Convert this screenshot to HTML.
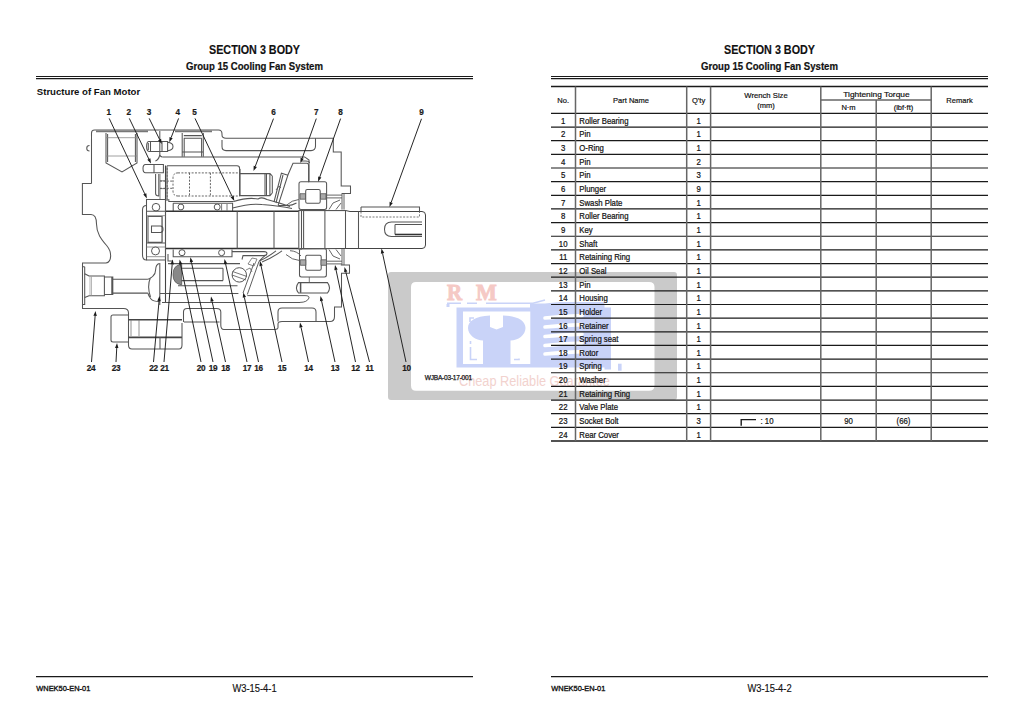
<!DOCTYPE html>
<html><head><meta charset="utf-8"><style>
html,body{margin:0;padding:0;background:#fff;}
body{width:1025px;height:727px;overflow:hidden;position:relative;font-family:"Liberation Sans", sans-serif;}
svg{position:absolute;left:0;top:0;}
</style></head><body>
<svg width="1025" height="727" viewBox="0 0 1025 727" font-family='"Liberation Sans", sans-serif'>
<path fill="#cacaca" fill-rule="evenodd" d="M391 272 H674 Q677 272 677 275 V397 Q677 400 674 400 H391 Q388 400 388 397 V275 Q388 272 391 272 Z M416 282 H649 Q654.5 282 654.5 287 V385.5 Q654.5 390.8 649 390.8 H416 Q411 390.8 411 385.5 V287 Q411 282 416 282 Z"/>
<text x="447" y="300.3" font-family="Liberation Serif" font-weight="bold" font-size="22" fill="#f5c9c5" stroke="#f5c9c5" stroke-width="0.9" transform="translate(447 300.3) scale(0.95 1.02) translate(-447 -300.3)">R</text>
<text x="476" y="300.3" font-family="Liberation Serif" font-weight="bold" font-size="22" fill="#f5c9c5" stroke="#f5c9c5" stroke-width="0.9" transform="translate(476 300.3) scale(1.0 1.02) translate(-476 -300.3)">M</text>
<path d="M447 303.3 H461 M467 303.3 H477 M486 303.3 H533 L545 300" stroke="#c9d3f8" stroke-width="1.6" fill="none"/>
<rect x="446.5" y="304" width="3" height="3" fill="#c9d3f8"/>
<path fill="#c9d3f8" fill-rule="evenodd" d="M456.5 307.5 H530 V303.5 H545 L560 302 H604.5 V307.5 H611 V369.5 H604.5 V367.4 H456.5 Z M463 311.5 H530.3 V364 H463 Z"/>
<path fill="#c9d3f8" d="M490 315.4 C475 316 468 321 468 328 C468 335 476 340.5 483 340.6 V364 H510.5 V340.6 C518 340.5 525.5 335 525.5 328 C525.5 321 518 316 503 315.4 V327 L496.5 329.5 L490 327 Z"/>
<path d="M470 322 V318 H474 M470.5 341 V344 M470.5 347 V359.5 H477 M519 358.5 V359.5 H514" stroke="#c9d3f8" stroke-width="1.6" fill="none"/>
<path d="M545 318 Q560 316.4 582 315.6" stroke="#fff" stroke-width="3.6" stroke-linecap="round" fill="none"/>
<path d="M545 327 Q560 325.4 582 324.6" stroke="#fff" stroke-width="3.6" stroke-linecap="round" fill="none"/>
<path d="M545 336.5 Q560 334.9 582 334.1" stroke="#fff" stroke-width="3.6" stroke-linecap="round" fill="none"/>
<path d="M545 345.5 Q560 343.9 582 343.1" stroke="#fff" stroke-width="3.6" stroke-linecap="round" fill="none"/>
<path d="M545 354 Q560 352.4 582 351.6" stroke="#fff" stroke-width="3.6" stroke-linecap="round" fill="none"/>
<rect x="618" y="363.7" width="3.6" height="7" fill="#c9d3f8"/>
<text x="459" y="385.6" font-family="Liberation Sans" font-size="15" fill="#f2d2ce" transform="translate(459 385.6) scale(0.85 1) translate(-459 -385.6)">Cheap Reliable Guarantee</text>
<line x1="36" y1="76.5" x2="473" y2="76.5" stroke="#1a1a1a" stroke-width="1.1"/>
<line x1="36" y1="78.6" x2="473" y2="78.6" stroke="#1a1a1a" stroke-width="1.1"/>
<line x1="551" y1="76.5" x2="988" y2="76.5" stroke="#1a1a1a" stroke-width="1.1"/>
<line x1="551" y1="78.6" x2="988" y2="78.6" stroke="#1a1a1a" stroke-width="1.1"/>
<line x1="551" y1="86.5" x2="988" y2="86.5" stroke="#1a1a1a" stroke-width="1.3"/>
<line x1="551" y1="113.4" x2="988" y2="113.4" stroke="#1a1a1a" stroke-width="1.2"/>
<line x1="551" y1="127.05000000000001" x2="988" y2="127.05000000000001" stroke="#1a1a1a" stroke-width="1.2"/>
<line x1="551" y1="140.70000000000002" x2="988" y2="140.70000000000002" stroke="#1a1a1a" stroke-width="1.2"/>
<line x1="551" y1="154.35000000000002" x2="988" y2="154.35000000000002" stroke="#1a1a1a" stroke-width="1.2"/>
<line x1="551" y1="168.0" x2="988" y2="168.0" stroke="#1a1a1a" stroke-width="1.2"/>
<line x1="551" y1="181.65" x2="988" y2="181.65" stroke="#1a1a1a" stroke-width="1.2"/>
<line x1="551" y1="195.3" x2="988" y2="195.3" stroke="#1a1a1a" stroke-width="1.2"/>
<line x1="551" y1="208.95" x2="988" y2="208.95" stroke="#1a1a1a" stroke-width="1.2"/>
<line x1="551" y1="222.60000000000002" x2="988" y2="222.60000000000002" stroke="#1a1a1a" stroke-width="1.2"/>
<line x1="551" y1="236.25" x2="988" y2="236.25" stroke="#1a1a1a" stroke-width="1.2"/>
<line x1="551" y1="249.9" x2="988" y2="249.9" stroke="#1a1a1a" stroke-width="1.2"/>
<line x1="551" y1="263.55" x2="988" y2="263.55" stroke="#1a1a1a" stroke-width="1.2"/>
<line x1="551" y1="277.20000000000005" x2="988" y2="277.20000000000005" stroke="#1a1a1a" stroke-width="1.2"/>
<line x1="551" y1="290.85" x2="988" y2="290.85" stroke="#1a1a1a" stroke-width="1.2"/>
<line x1="551" y1="304.5" x2="988" y2="304.5" stroke="#1a1a1a" stroke-width="1.2"/>
<line x1="551" y1="318.15" x2="988" y2="318.15" stroke="#1a1a1a" stroke-width="1.2"/>
<line x1="551" y1="331.8" x2="988" y2="331.8" stroke="#1a1a1a" stroke-width="1.2"/>
<line x1="551" y1="345.45000000000005" x2="988" y2="345.45000000000005" stroke="#1a1a1a" stroke-width="1.2"/>
<line x1="551" y1="359.1" x2="988" y2="359.1" stroke="#1a1a1a" stroke-width="1.2"/>
<line x1="551" y1="372.75" x2="988" y2="372.75" stroke="#1a1a1a" stroke-width="1.2"/>
<line x1="551" y1="386.4" x2="988" y2="386.4" stroke="#1a1a1a" stroke-width="1.2"/>
<line x1="551" y1="400.05000000000007" x2="988" y2="400.05000000000007" stroke="#1a1a1a" stroke-width="1.2"/>
<line x1="551" y1="413.70000000000005" x2="988" y2="413.70000000000005" stroke="#1a1a1a" stroke-width="1.2"/>
<line x1="551" y1="427.35" x2="988" y2="427.35" stroke="#1a1a1a" stroke-width="1.2"/>
<line x1="551" y1="441.0" x2="988" y2="441.0" stroke="#1a1a1a" stroke-width="1.5"/>
<line x1="575.5" y1="86.5" x2="575.5" y2="441.0" stroke="#666" stroke-width="1.5"/>
<line x1="686.7" y1="86.5" x2="686.7" y2="441.0" stroke="#666" stroke-width="1.5"/>
<line x1="710.6" y1="86.5" x2="710.6" y2="441.0" stroke="#666" stroke-width="1.5"/>
<line x1="820.8" y1="86.5" x2="820.8" y2="441.0" stroke="#666" stroke-width="1.5"/>
<line x1="876.2" y1="100" x2="876.2" y2="441.0" stroke="#666" stroke-width="1.5"/>
<line x1="931.2" y1="86.5" x2="931.2" y2="441.0" stroke="#666" stroke-width="1.5"/>
<line x1="820.8" y1="100" x2="931.2" y2="100" stroke="#666" stroke-width="1.3"/>
<path d="M741.2 425.8 V419.6 H756" fill="none" stroke="#1a1a1a" stroke-width="1.4"/>
<line x1="36" y1="676.6" x2="473" y2="676.6" stroke="#1a1a1a" stroke-width="1.2"/>
<line x1="551" y1="676.6" x2="988" y2="676.6" stroke="#1a1a1a" stroke-width="1.2"/>
<text x="254.5" y="53.8" font-size="12.4" font-weight="bold" text-anchor="middle" fill="#111" transform="translate(254.5 53.8) scale(0.87 1) translate(-254.5 -53.8)" stroke="#111" stroke-width="0.15">SECTION 3 BODY</text>
<text x="254.5" y="70.0" font-size="10.1" font-weight="bold" text-anchor="middle" fill="#111" transform="translate(254.5 70.0) scale(0.95 1) translate(-254.5 -70.0)" stroke="#111" stroke-width="0.2">Group 15 Cooling Fan System</text>
<text x="769.5" y="53.8" font-size="12.4" font-weight="bold" text-anchor="middle" fill="#111" transform="translate(769.5 53.8) scale(0.87 1) translate(-769.5 -53.8)" stroke="#111" stroke-width="0.15">SECTION 3 BODY</text>
<text x="769.5" y="70.0" font-size="10.1" font-weight="bold" text-anchor="middle" fill="#111" transform="translate(769.5 70.0) scale(0.95 1) translate(-769.5 -70.0)" stroke="#111" stroke-width="0.2">Group 15 Cooling Fan System</text>
<text x="36.8" y="94.6" font-size="9.6" font-weight="bold" text-anchor="start" fill="#111" >Structure of Fan Motor</text>
<text x="563.2" y="103.2" font-size="8.1" font-weight="normal" text-anchor="middle" fill="#111" transform="translate(563.2 103.2) scale(0.93 1) translate(-563.2 -103.2)" stroke="#111" stroke-width="0.2">No.</text>
<text x="631" y="103.2" font-size="8.1" font-weight="normal" text-anchor="middle" fill="#111" transform="translate(631 103.2) scale(0.93 1) translate(-631 -103.2)" stroke="#111" stroke-width="0.2">Part Name</text>
<text x="698.6" y="103.2" font-size="8.1" font-weight="normal" text-anchor="middle" fill="#111" transform="translate(698.6 103.2) scale(0.93 1) translate(-698.6 -103.2)" stroke="#111" stroke-width="0.2">Q'ty</text>
<text x="766" y="98.4" font-size="8.1" font-weight="normal" text-anchor="middle" fill="#111" transform="translate(766 98.4) scale(0.95 1) translate(-766 -98.4)" stroke="#111" stroke-width="0.2">Wrench Size</text>
<text x="766" y="108.1" font-size="8.1" font-weight="normal" text-anchor="middle" fill="#111" transform="translate(766 108.1) scale(0.93 1) translate(-766 -108.1)" stroke="#111" stroke-width="0.2">(mm)</text>
<text x="876.4" y="96.6" font-size="8.1" font-weight="normal" text-anchor="middle" fill="#111" transform="translate(876.4 96.6) scale(1.03 1) translate(-876.4 -96.6)" stroke="#111" stroke-width="0.2">Tightening Torque</text>
<text x="848.5" y="110.2" font-size="8.1" font-weight="normal" text-anchor="middle" fill="#111" transform="translate(848.5 110.2) scale(0.93 1) translate(-848.5 -110.2)" stroke="#111" stroke-width="0.2">N·m</text>
<text x="903.5" y="110.2" font-size="8.1" font-weight="normal" text-anchor="middle" fill="#111" transform="translate(903.5 110.2) scale(0.93 1) translate(-903.5 -110.2)" stroke="#111" stroke-width="0.2">(lbf·ft)</text>
<text x="959.5" y="103.2" font-size="8.1" font-weight="normal" text-anchor="middle" fill="#111" transform="translate(959.5 103.2) scale(0.93 1) translate(-959.5 -103.2)" stroke="#111" stroke-width="0.2">Remark</text>
<text x="563.2" y="123.80000000000001" font-size="8.4" font-weight="normal" text-anchor="middle" fill="#111" transform="translate(563.2 123.80000000000001) scale(0.93 1) translate(-563.2 -123.80000000000001)" stroke="#111" stroke-width="0.22">1</text>
<text x="579.3" y="123.80000000000001" font-size="8.4" font-weight="normal" text-anchor="start" fill="#111" transform="translate(579.3 123.80000000000001) scale(0.925 1) translate(-579.3 -123.80000000000001)" stroke="#111" stroke-width="0.22">Roller Bearing</text>
<text x="698.6" y="123.80000000000001" font-size="8.4" font-weight="normal" text-anchor="middle" fill="#111" transform="translate(698.6 123.80000000000001) scale(0.93 1) translate(-698.6 -123.80000000000001)" stroke="#111" stroke-width="0.22">1</text>
<text x="563.2" y="137.45000000000002" font-size="8.4" font-weight="normal" text-anchor="middle" fill="#111" transform="translate(563.2 137.45000000000002) scale(0.93 1) translate(-563.2 -137.45000000000002)" stroke="#111" stroke-width="0.22">2</text>
<text x="579.3" y="137.45000000000002" font-size="8.4" font-weight="normal" text-anchor="start" fill="#111" transform="translate(579.3 137.45000000000002) scale(0.925 1) translate(-579.3 -137.45000000000002)" stroke="#111" stroke-width="0.22">Pin</text>
<text x="698.6" y="137.45000000000002" font-size="8.4" font-weight="normal" text-anchor="middle" fill="#111" transform="translate(698.6 137.45000000000002) scale(0.93 1) translate(-698.6 -137.45000000000002)" stroke="#111" stroke-width="0.22">1</text>
<text x="563.2" y="151.10000000000002" font-size="8.4" font-weight="normal" text-anchor="middle" fill="#111" transform="translate(563.2 151.10000000000002) scale(0.93 1) translate(-563.2 -151.10000000000002)" stroke="#111" stroke-width="0.22">3</text>
<text x="579.3" y="151.10000000000002" font-size="8.4" font-weight="normal" text-anchor="start" fill="#111" transform="translate(579.3 151.10000000000002) scale(0.925 1) translate(-579.3 -151.10000000000002)" stroke="#111" stroke-width="0.22">O-Ring</text>
<text x="698.6" y="151.10000000000002" font-size="8.4" font-weight="normal" text-anchor="middle" fill="#111" transform="translate(698.6 151.10000000000002) scale(0.93 1) translate(-698.6 -151.10000000000002)" stroke="#111" stroke-width="0.22">1</text>
<text x="563.2" y="164.75000000000003" font-size="8.4" font-weight="normal" text-anchor="middle" fill="#111" transform="translate(563.2 164.75000000000003) scale(0.93 1) translate(-563.2 -164.75000000000003)" stroke="#111" stroke-width="0.22">4</text>
<text x="579.3" y="164.75000000000003" font-size="8.4" font-weight="normal" text-anchor="start" fill="#111" transform="translate(579.3 164.75000000000003) scale(0.925 1) translate(-579.3 -164.75000000000003)" stroke="#111" stroke-width="0.22">Pin</text>
<text x="698.6" y="164.75000000000003" font-size="8.4" font-weight="normal" text-anchor="middle" fill="#111" transform="translate(698.6 164.75000000000003) scale(0.93 1) translate(-698.6 -164.75000000000003)" stroke="#111" stroke-width="0.22">2</text>
<text x="563.2" y="178.4" font-size="8.4" font-weight="normal" text-anchor="middle" fill="#111" transform="translate(563.2 178.4) scale(0.93 1) translate(-563.2 -178.4)" stroke="#111" stroke-width="0.22">5</text>
<text x="579.3" y="178.4" font-size="8.4" font-weight="normal" text-anchor="start" fill="#111" transform="translate(579.3 178.4) scale(0.925 1) translate(-579.3 -178.4)" stroke="#111" stroke-width="0.22">Pin</text>
<text x="698.6" y="178.4" font-size="8.4" font-weight="normal" text-anchor="middle" fill="#111" transform="translate(698.6 178.4) scale(0.93 1) translate(-698.6 -178.4)" stroke="#111" stroke-width="0.22">3</text>
<text x="563.2" y="192.05" font-size="8.4" font-weight="normal" text-anchor="middle" fill="#111" transform="translate(563.2 192.05) scale(0.93 1) translate(-563.2 -192.05)" stroke="#111" stroke-width="0.22">6</text>
<text x="579.3" y="192.05" font-size="8.4" font-weight="normal" text-anchor="start" fill="#111" transform="translate(579.3 192.05) scale(0.925 1) translate(-579.3 -192.05)" stroke="#111" stroke-width="0.22">Plunger</text>
<text x="698.6" y="192.05" font-size="8.4" font-weight="normal" text-anchor="middle" fill="#111" transform="translate(698.6 192.05) scale(0.93 1) translate(-698.6 -192.05)" stroke="#111" stroke-width="0.22">9</text>
<text x="563.2" y="205.70000000000002" font-size="8.4" font-weight="normal" text-anchor="middle" fill="#111" transform="translate(563.2 205.70000000000002) scale(0.93 1) translate(-563.2 -205.70000000000002)" stroke="#111" stroke-width="0.22">7</text>
<text x="579.3" y="205.70000000000002" font-size="8.4" font-weight="normal" text-anchor="start" fill="#111" transform="translate(579.3 205.70000000000002) scale(0.925 1) translate(-579.3 -205.70000000000002)" stroke="#111" stroke-width="0.22">Swash Plate</text>
<text x="698.6" y="205.70000000000002" font-size="8.4" font-weight="normal" text-anchor="middle" fill="#111" transform="translate(698.6 205.70000000000002) scale(0.93 1) translate(-698.6 -205.70000000000002)" stroke="#111" stroke-width="0.22">1</text>
<text x="563.2" y="219.35" font-size="8.4" font-weight="normal" text-anchor="middle" fill="#111" transform="translate(563.2 219.35) scale(0.93 1) translate(-563.2 -219.35)" stroke="#111" stroke-width="0.22">8</text>
<text x="579.3" y="219.35" font-size="8.4" font-weight="normal" text-anchor="start" fill="#111" transform="translate(579.3 219.35) scale(0.925 1) translate(-579.3 -219.35)" stroke="#111" stroke-width="0.22">Roller Bearing</text>
<text x="698.6" y="219.35" font-size="8.4" font-weight="normal" text-anchor="middle" fill="#111" transform="translate(698.6 219.35) scale(0.93 1) translate(-698.6 -219.35)" stroke="#111" stroke-width="0.22">1</text>
<text x="563.2" y="233.00000000000003" font-size="8.4" font-weight="normal" text-anchor="middle" fill="#111" transform="translate(563.2 233.00000000000003) scale(0.93 1) translate(-563.2 -233.00000000000003)" stroke="#111" stroke-width="0.22">9</text>
<text x="579.3" y="233.00000000000003" font-size="8.4" font-weight="normal" text-anchor="start" fill="#111" transform="translate(579.3 233.00000000000003) scale(0.925 1) translate(-579.3 -233.00000000000003)" stroke="#111" stroke-width="0.22">Key</text>
<text x="698.6" y="233.00000000000003" font-size="8.4" font-weight="normal" text-anchor="middle" fill="#111" transform="translate(698.6 233.00000000000003) scale(0.93 1) translate(-698.6 -233.00000000000003)" stroke="#111" stroke-width="0.22">1</text>
<text x="563.2" y="246.65" font-size="8.4" font-weight="normal" text-anchor="middle" fill="#111" transform="translate(563.2 246.65) scale(0.93 1) translate(-563.2 -246.65)" stroke="#111" stroke-width="0.22">10</text>
<text x="579.3" y="246.65" font-size="8.4" font-weight="normal" text-anchor="start" fill="#111" transform="translate(579.3 246.65) scale(0.925 1) translate(-579.3 -246.65)" stroke="#111" stroke-width="0.22">Shaft</text>
<text x="698.6" y="246.65" font-size="8.4" font-weight="normal" text-anchor="middle" fill="#111" transform="translate(698.6 246.65) scale(0.93 1) translate(-698.6 -246.65)" stroke="#111" stroke-width="0.22">1</text>
<text x="563.2" y="260.3" font-size="8.4" font-weight="normal" text-anchor="middle" fill="#111" transform="translate(563.2 260.3) scale(0.93 1) translate(-563.2 -260.3)" stroke="#111" stroke-width="0.22">11</text>
<text x="579.3" y="260.3" font-size="8.4" font-weight="normal" text-anchor="start" fill="#111" transform="translate(579.3 260.3) scale(0.925 1) translate(-579.3 -260.3)" stroke="#111" stroke-width="0.22">Retaining Ring</text>
<text x="698.6" y="260.3" font-size="8.4" font-weight="normal" text-anchor="middle" fill="#111" transform="translate(698.6 260.3) scale(0.93 1) translate(-698.6 -260.3)" stroke="#111" stroke-width="0.22">1</text>
<text x="563.2" y="273.95" font-size="8.4" font-weight="normal" text-anchor="middle" fill="#111" transform="translate(563.2 273.95) scale(0.93 1) translate(-563.2 -273.95)" stroke="#111" stroke-width="0.22">12</text>
<text x="579.3" y="273.95" font-size="8.4" font-weight="normal" text-anchor="start" fill="#111" transform="translate(579.3 273.95) scale(0.925 1) translate(-579.3 -273.95)" stroke="#111" stroke-width="0.22">Oil Seal</text>
<text x="698.6" y="273.95" font-size="8.4" font-weight="normal" text-anchor="middle" fill="#111" transform="translate(698.6 273.95) scale(0.93 1) translate(-698.6 -273.95)" stroke="#111" stroke-width="0.22">1</text>
<text x="563.2" y="287.6" font-size="8.4" font-weight="normal" text-anchor="middle" fill="#111" transform="translate(563.2 287.6) scale(0.93 1) translate(-563.2 -287.6)" stroke="#111" stroke-width="0.22">13</text>
<text x="579.3" y="287.6" font-size="8.4" font-weight="normal" text-anchor="start" fill="#111" transform="translate(579.3 287.6) scale(0.925 1) translate(-579.3 -287.6)" stroke="#111" stroke-width="0.22">Pin</text>
<text x="698.6" y="287.6" font-size="8.4" font-weight="normal" text-anchor="middle" fill="#111" transform="translate(698.6 287.6) scale(0.93 1) translate(-698.6 -287.6)" stroke="#111" stroke-width="0.22">1</text>
<text x="563.2" y="301.25" font-size="8.4" font-weight="normal" text-anchor="middle" fill="#111" transform="translate(563.2 301.25) scale(0.93 1) translate(-563.2 -301.25)" stroke="#111" stroke-width="0.22">14</text>
<text x="579.3" y="301.25" font-size="8.4" font-weight="normal" text-anchor="start" fill="#111" transform="translate(579.3 301.25) scale(0.925 1) translate(-579.3 -301.25)" stroke="#111" stroke-width="0.22">Housing</text>
<text x="698.6" y="301.25" font-size="8.4" font-weight="normal" text-anchor="middle" fill="#111" transform="translate(698.6 301.25) scale(0.93 1) translate(-698.6 -301.25)" stroke="#111" stroke-width="0.22">1</text>
<text x="563.2" y="314.9" font-size="8.4" font-weight="normal" text-anchor="middle" fill="#111" transform="translate(563.2 314.9) scale(0.93 1) translate(-563.2 -314.9)" stroke="#111" stroke-width="0.22">15</text>
<text x="579.3" y="314.9" font-size="8.4" font-weight="normal" text-anchor="start" fill="#111" transform="translate(579.3 314.9) scale(0.925 1) translate(-579.3 -314.9)" stroke="#111" stroke-width="0.22">Holder</text>
<text x="698.6" y="314.9" font-size="8.4" font-weight="normal" text-anchor="middle" fill="#111" transform="translate(698.6 314.9) scale(0.93 1) translate(-698.6 -314.9)" stroke="#111" stroke-width="0.22">1</text>
<text x="563.2" y="328.54999999999995" font-size="8.4" font-weight="normal" text-anchor="middle" fill="#111" transform="translate(563.2 328.54999999999995) scale(0.93 1) translate(-563.2 -328.54999999999995)" stroke="#111" stroke-width="0.22">16</text>
<text x="579.3" y="328.54999999999995" font-size="8.4" font-weight="normal" text-anchor="start" fill="#111" transform="translate(579.3 328.54999999999995) scale(0.925 1) translate(-579.3 -328.54999999999995)" stroke="#111" stroke-width="0.22">Retainer</text>
<text x="698.6" y="328.54999999999995" font-size="8.4" font-weight="normal" text-anchor="middle" fill="#111" transform="translate(698.6 328.54999999999995) scale(0.93 1) translate(-698.6 -328.54999999999995)" stroke="#111" stroke-width="0.22">1</text>
<text x="563.2" y="342.2" font-size="8.4" font-weight="normal" text-anchor="middle" fill="#111" transform="translate(563.2 342.2) scale(0.93 1) translate(-563.2 -342.2)" stroke="#111" stroke-width="0.22">17</text>
<text x="579.3" y="342.2" font-size="8.4" font-weight="normal" text-anchor="start" fill="#111" transform="translate(579.3 342.2) scale(0.925 1) translate(-579.3 -342.2)" stroke="#111" stroke-width="0.22">Spring seat</text>
<text x="698.6" y="342.2" font-size="8.4" font-weight="normal" text-anchor="middle" fill="#111" transform="translate(698.6 342.2) scale(0.93 1) translate(-698.6 -342.2)" stroke="#111" stroke-width="0.22">1</text>
<text x="563.2" y="355.85" font-size="8.4" font-weight="normal" text-anchor="middle" fill="#111" transform="translate(563.2 355.85) scale(0.93 1) translate(-563.2 -355.85)" stroke="#111" stroke-width="0.22">18</text>
<text x="579.3" y="355.85" font-size="8.4" font-weight="normal" text-anchor="start" fill="#111" transform="translate(579.3 355.85) scale(0.925 1) translate(-579.3 -355.85)" stroke="#111" stroke-width="0.22">Rotor</text>
<text x="698.6" y="355.85" font-size="8.4" font-weight="normal" text-anchor="middle" fill="#111" transform="translate(698.6 355.85) scale(0.93 1) translate(-698.6 -355.85)" stroke="#111" stroke-width="0.22">1</text>
<text x="563.2" y="369.5" font-size="8.4" font-weight="normal" text-anchor="middle" fill="#111" transform="translate(563.2 369.5) scale(0.93 1) translate(-563.2 -369.5)" stroke="#111" stroke-width="0.22">19</text>
<text x="579.3" y="369.5" font-size="8.4" font-weight="normal" text-anchor="start" fill="#111" transform="translate(579.3 369.5) scale(0.925 1) translate(-579.3 -369.5)" stroke="#111" stroke-width="0.22">Spring</text>
<text x="698.6" y="369.5" font-size="8.4" font-weight="normal" text-anchor="middle" fill="#111" transform="translate(698.6 369.5) scale(0.93 1) translate(-698.6 -369.5)" stroke="#111" stroke-width="0.22">1</text>
<text x="563.2" y="383.15" font-size="8.4" font-weight="normal" text-anchor="middle" fill="#111" transform="translate(563.2 383.15) scale(0.93 1) translate(-563.2 -383.15)" stroke="#111" stroke-width="0.22">20</text>
<text x="579.3" y="383.15" font-size="8.4" font-weight="normal" text-anchor="start" fill="#111" transform="translate(579.3 383.15) scale(0.925 1) translate(-579.3 -383.15)" stroke="#111" stroke-width="0.22">Washer</text>
<text x="698.6" y="383.15" font-size="8.4" font-weight="normal" text-anchor="middle" fill="#111" transform="translate(698.6 383.15) scale(0.93 1) translate(-698.6 -383.15)" stroke="#111" stroke-width="0.22">1</text>
<text x="563.2" y="396.79999999999995" font-size="8.4" font-weight="normal" text-anchor="middle" fill="#111" transform="translate(563.2 396.79999999999995) scale(0.93 1) translate(-563.2 -396.79999999999995)" stroke="#111" stroke-width="0.22">21</text>
<text x="579.3" y="396.79999999999995" font-size="8.4" font-weight="normal" text-anchor="start" fill="#111" transform="translate(579.3 396.79999999999995) scale(0.925 1) translate(-579.3 -396.79999999999995)" stroke="#111" stroke-width="0.22">Retaining Ring</text>
<text x="698.6" y="396.79999999999995" font-size="8.4" font-weight="normal" text-anchor="middle" fill="#111" transform="translate(698.6 396.79999999999995) scale(0.93 1) translate(-698.6 -396.79999999999995)" stroke="#111" stroke-width="0.22">1</text>
<text x="563.2" y="410.45000000000005" font-size="8.4" font-weight="normal" text-anchor="middle" fill="#111" transform="translate(563.2 410.45000000000005) scale(0.93 1) translate(-563.2 -410.45000000000005)" stroke="#111" stroke-width="0.22">22</text>
<text x="579.3" y="410.45000000000005" font-size="8.4" font-weight="normal" text-anchor="start" fill="#111" transform="translate(579.3 410.45000000000005) scale(0.925 1) translate(-579.3 -410.45000000000005)" stroke="#111" stroke-width="0.22">Valve Plate</text>
<text x="698.6" y="410.45000000000005" font-size="8.4" font-weight="normal" text-anchor="middle" fill="#111" transform="translate(698.6 410.45000000000005) scale(0.93 1) translate(-698.6 -410.45000000000005)" stroke="#111" stroke-width="0.22">1</text>
<text x="563.2" y="424.1" font-size="8.4" font-weight="normal" text-anchor="middle" fill="#111" transform="translate(563.2 424.1) scale(0.93 1) translate(-563.2 -424.1)" stroke="#111" stroke-width="0.22">23</text>
<text x="579.3" y="424.1" font-size="8.4" font-weight="normal" text-anchor="start" fill="#111" transform="translate(579.3 424.1) scale(0.925 1) translate(-579.3 -424.1)" stroke="#111" stroke-width="0.22">Socket Bolt</text>
<text x="698.6" y="424.1" font-size="8.4" font-weight="normal" text-anchor="middle" fill="#111" transform="translate(698.6 424.1) scale(0.93 1) translate(-698.6 -424.1)" stroke="#111" stroke-width="0.22">3</text>
<text x="563.2" y="437.75" font-size="8.4" font-weight="normal" text-anchor="middle" fill="#111" transform="translate(563.2 437.75) scale(0.93 1) translate(-563.2 -437.75)" stroke="#111" stroke-width="0.22">24</text>
<text x="579.3" y="437.75" font-size="8.4" font-weight="normal" text-anchor="start" fill="#111" transform="translate(579.3 437.75) scale(0.925 1) translate(-579.3 -437.75)" stroke="#111" stroke-width="0.22">Rear Cover</text>
<text x="698.6" y="437.75" font-size="8.4" font-weight="normal" text-anchor="middle" fill="#111" transform="translate(698.6 437.75) scale(0.93 1) translate(-698.6 -437.75)" stroke="#111" stroke-width="0.22">1</text>
<text x="760.5" y="424.1" font-size="8.4" font-weight="normal" text-anchor="start" fill="#111" transform="translate(760.5 424.1) scale(0.93 1) translate(-760.5 -424.1)" stroke="#111" stroke-width="0.2">: 10</text>
<text x="848.5" y="424.1" font-size="8.4" font-weight="normal" text-anchor="middle" fill="#111" transform="translate(848.5 424.1) scale(0.93 1) translate(-848.5 -424.1)" stroke="#111" stroke-width="0.2">90</text>
<text x="903.5" y="424.1" font-size="8.4" font-weight="normal" text-anchor="middle" fill="#111" transform="translate(903.5 424.1) scale(0.93 1) translate(-903.5 -424.1)" stroke="#111" stroke-width="0.2">(66)</text>
<text x="36.3" y="691.0" font-size="7.9" font-weight="normal" text-anchor="start" fill="#111" transform="translate(36.3 691.0) scale(0.94 1) translate(-36.3 -691.0)" stroke="#111" stroke-width="0.35">WNEK50-EN-01</text>
<text x="254.5" y="691.6" font-size="10.3" font-weight="normal" text-anchor="middle" fill="#111" transform="translate(254.5 691.6) scale(0.91 1) translate(-254.5 -691.6)" stroke="#111" stroke-width="0.15">W3-15-4-1</text>
<text x="551.3" y="691.0" font-size="7.9" font-weight="normal" text-anchor="start" fill="#111" transform="translate(551.3 691.0) scale(0.94 1) translate(-551.3 -691.0)" stroke="#111" stroke-width="0.35">WNEK50-EN-01</text>
<text x="769.5" y="691.6" font-size="10.3" font-weight="normal" text-anchor="middle" fill="#111" transform="translate(769.5 691.6) scale(0.91 1) translate(-769.5 -691.6)" stroke="#111" stroke-width="0.15">W3-15-4-2</text>
<path d="M91.5 183.4 V133 Q91.5 130 94.5 130 H218.5 Q222 130 222 134 V135 Q222 138.2 226 138.2 H333.3 V152 H341.2 V186 H350.5 V193.5 H342" fill="none" stroke="#555" stroke-width="1.05" />
<path d="M96 131.4 H148 M175 131.4 H212" fill="none" stroke="#777" stroke-width="1.7" />
<path d="M91.5 183.4 H82.4 V214.4 H91 C96 214.4 96.5 219 96.5 224 C96.5 234 102 240 107 246 C112 252 112 262 106 263 H82.5 V308.5 H123.5 Q128.5 308.5 128.5 313 V315" fill="none" stroke="#555" stroke-width="1.05" />
<path d="M89.5 145.5 A2.7 2.7 0 0 0 89.5 151" fill="none" stroke="#555" stroke-width="1.05" />
<path d="M222 140 V146.5 Q222 150.6 226 150.6 H311 Q315.5 150.6 315.5 146 V138.2" fill="none" stroke="#555" stroke-width="1.05" />
<path d="M162.5 156.9 H304.7 L309 160 V182" fill="none" stroke="#555" stroke-width="1.05" />
<path d="M167 165.7 H237 Q239.6 165.7 239.6 168.5 V196 M167 165.7 V201" fill="none" stroke="#555" stroke-width="1.05" />
<path d="M106 133 V163 L122 172 L137 163 V133 M107.6 134 V162 M135.4 134 V162" fill="none" stroke="#555" stroke-width="1.05" />
<path d="M106 137.7 H137 M106 156 H137" fill="none" stroke="#888" stroke-width="0.8" />
<path d="M149 141.5 H167.6 V151.4 H149 Q146.6 151.4 146.6 146.5 Q146.6 141.5 149 141.5 Z M148.3 143 V150 M150.5 142 V151" fill="none" stroke="#555" stroke-width="1.05" />
<path d="M167.6 142.3 Q173 142.8 173 146.5 Q173 150.3 167.6 150.8 M162 141.5 V151.4" fill="none" stroke="#555" stroke-width="1.05" />
<path d="M159.8 131 V154.6 Q159.8 156.9 162.5 156.9" fill="none" stroke="#555" stroke-width="1.05" />
<path d="M159.8 155 Q158.5 160 155.4 161" fill="none" stroke="#555" stroke-width="1.05" />
<path d="M182.2 133 V156.8 M203.3 133 V156.8 M183.8 135.6 H201.8 M183.8 138.2 H201.8 M184.2 138.2 V156.8 M201.6 138.2 V156.8 M182.2 152 H203.3" fill="none" stroke="#555" stroke-width="1.05" />
<path d="M145.5 164.5 H163.4 V172.8 H145.5 Q143 172.8 143 168.6 Q143 164.5 145.5 164.5 Z M154 164.5 V172.8" fill="none" stroke="#555" stroke-width="1.05" />
<path d="M155.6 174 V193.5 Q155.6 196 158.8 196 V174" fill="none" stroke="#555" stroke-width="1.05" />
<path d="M165.5 165.5 V302.5" fill="none" stroke="#444" stroke-width="1.1" />
<path d="M160 180.8 H165.5 M160 188.6 H165.5 M160 174 V199" fill="none" stroke="#666" stroke-width="0.8" />
<path d="M167.2 168 V200" fill="none" stroke="#555" stroke-width="0.8" stroke-dasharray="2 1.4"/>
<path d="M178 172.9 H240 M178 196 H240 M189.5 172.9 V196 M210.4 172.9 V196" fill="none" stroke="#555" stroke-width="0.9" stroke-dasharray="2 1.4"/>
<path d="M178 172.9 Q173 172.9 173 178 V191 Q173 196 178 196 M160 181.1 H173 M160 188.3 H173" fill="none" stroke="#555" stroke-width="0.9" stroke-dasharray="2 1.4"/>
<path d="M240 173.6 H270 L272.3 176 M240 195.6 H270 L272.3 193 M240 169 V196 M265 173.6 V195.6 M266.5 173.6 V195.6 M269.9 173.6 V195.6 M272.3 176 V193" fill="none" stroke="#555" stroke-width="1.05" />
<path d="M168.8 199 V201.5 H233.7 M173.2 203.2 H232.6 V210.9 M173.2 203.2 V210.9" fill="none" stroke="#555" stroke-width="1.05" />
<circle cx="180.9" cy="207" r="2.9" fill="none" stroke="#555" stroke-width="1.0"/>
<circle cx="217.2" cy="207" r="3.0" fill="none" stroke="#555" stroke-width="1.0"/>
<path d="M221.6 204 V210.5 M227 204 V210.5" fill="none" stroke="#555" stroke-width="0.8" />
<path d="M233.7 201.5 Q248 197 258 199 Q262 196.5 267 199.5 Q280 203 290 206.5" fill="none" stroke="#555" stroke-width="1.05" />
<path d="M232.6 208 Q250 203 262 204.5 Q280 206 292 208.5" fill="none" stroke="#555" stroke-width="1.05" />
<path d="M274 202 L281.4 173.2 L288 175.2 M276 203 L283 175" fill="none" stroke="#555" stroke-width="1.05" />
<path d="M276 190 L279 186 L281 188" fill="none" stroke="#555" stroke-width="0.8" />
<path d="M278.1 205.3 L288 174.8 L293 163.3 H307 Q308.6 163.3 308.6 166 V182.2 M278.1 205.5 H288 Q292 205.5 296.5 203" fill="none" stroke="#555" stroke-width="1.05" />
<path d="M300.5 161 H305.5 Q309.5 161 309.5 163" fill="none" stroke="#555" stroke-width="1.05" />
<path d="M298.8 210.6 H346 L350 211.5 H422 Q425.5 211.5 425.5 215 V245 Q425.5 248.5 422 248.5 H346 L298.8 248.8" fill="none" stroke="#444" stroke-width="1.0" />
<path d="M165.5 248.6 H298.8" fill="none" stroke="#333" stroke-width="1.5" />
<path d="M165.5 211.3 H298.8" fill="none" stroke="#333" stroke-width="1.4" />
<path d="M237.2 211.3 V248.6 M274 211.3 V248.6 M298.8 210 V249.5 M301.5 210 V249.5 M303.6 210.6 V248.6 M324.9 210.6 V248.6 M345.5 210.6 V248.6 M358.5 211.5 V248.5" fill="none" stroke="#555" stroke-width="1.05" />
<path d="M286 205.5 Q292 200 298.8 199.5 M286 254.5 Q292 260 299.5 260.5" fill="none" stroke="#555" stroke-width="0.9" />
<path d="M361 207 H419.5 V211.5 M361 207 V211.5" fill="none" stroke="#555" stroke-width="1.05" />
<path d="M361 211.5 V217 H419.5 V211.5" fill="none" stroke="#555" stroke-width="0.8" stroke-dasharray="2 1.4"/>
<path d="M422 222 H391.5 Q384.5 222 384.5 229.2 Q384.5 236.5 391.5 236.5 H422 M395 224.5 V234.5 M395 234.5 H422 M395 224.5 H422" fill="none" stroke="#555" stroke-width="1.05" />
<path d="M395 234.5 H422" fill="none" stroke="#333" stroke-width="1.6" />
<path d="M146.5 199.4 H165.5 V260 H146.5 Z M146.5 211.3 H165.5 M146.5 243 H165.5 M148 216.4 H162 V242.2 H148 Z" fill="none" stroke="#555" stroke-width="1.05" />
<circle cx="156" cy="207.2" r="3.8" fill="none" stroke="#555" stroke-width="1.0"/>
<circle cx="155.5" cy="250.9" r="4.0" fill="none" stroke="#555" stroke-width="1.0"/>
<path d="M146.5 205.5 Q142.5 205.5 142.5 210 V255 Q142.5 260 146.5 260" fill="none" stroke="#555" stroke-width="1.05" />
<path d="M146.5 215.7 H165.5 M146.5 247 H165.5 M146.5 256.7 H165.5 M162.3 216 V242.5" fill="none" stroke="#777" stroke-width="0.8" />
<path d="M151.5 226 H160.5 Q163 226 163 229.2 Q163 232.4 160.5 232.4 H151.5 Z" fill="none" stroke="#555" stroke-width="1.05" />
<rect x="299" y="181.7" width="27.6" height="27.8" rx="2" fill="none" stroke="#555" stroke-width="1.05"/>
<rect x="305.7" y="189.4" width="14.5" height="13.9" rx="1.5" fill="none" stroke="#555" stroke-width="1.05"/>
<path d="M300 193.7 h5.5 v5.5 h-5.5 Z M320.5 193.7 h5.5 v5.5 h-5.5 Z" fill="#aaa" stroke="#555" stroke-width="0.8"/>
<rect x="299.5" y="248.6" width="26.9" height="28.4" rx="2" fill="none" stroke="#555" stroke-width="1.05"/>
<rect x="305.7" y="255.3" width="15.5" height="14.9" rx="1.5" fill="none" stroke="#555" stroke-width="1.05"/>
<path d="M300.3 259.8 h5.5 v5.5 h-5.5 Z M321 259.8 h5.5 v5.5 h-5.5 Z" fill="#aaa" stroke="#555" stroke-width="0.8"/>
<path d="M327 195.1 H342 M327 197.9 H342 M342 193 V209.6 M344 193.5 V209.6 M329 209.5 L333 203 L340 200 M336 209.5 L341 203" fill="none" stroke="#555" stroke-width="0.9" />
<path d="M327 261.2 H342 M327 263.9 H342 M342 249 V265 M344 249 V265 M329 249.5 L333 256 L340 259 M336 249.5 L341 256" fill="none" stroke="#555" stroke-width="0.9" />
<path d="M340.8 265 H349.5 V273.3 H341.5 V307 H334.5 V316.5 Q334.5 321.5 330 321.5 H282 Q278 321.5 278 324 V327.5 Q278 329.5 274 329.5 H224 Q220.8 329.5 220.8 325 V312 Q220.8 308.5 216.5 308.5 H187 Q183.5 308.5 183.5 312 V322" fill="none" stroke="#555" stroke-width="1.05" />
<path d="M278 321.5 V312 Q278 308 282 308 H312 Q316 308 316 312 V321.5" fill="none" stroke="#555" stroke-width="1.05" />
<path d="M184 322 H219.6" fill="none" stroke="#555" stroke-width="1.05" />
<path d="M298.5 282.6 H327.5 Q331.5 287.8 327.5 293 H298.5 Q294.4 287.8 298.5 282.6 Z" fill="none" stroke="#555" stroke-width="1.05" />
<path d="M300.6 282.8 V292.8" fill="none" stroke="#555" stroke-width="1.5" />
<path d="M309.3 277 V282.6" fill="none" stroke="#555" stroke-width="0.8" />
<path d="M173.2 249.4 V256.8 H232 V249.4" fill="none" stroke="#555" stroke-width="1.05" />
<circle cx="182" cy="252.7" r="3.0" fill="none" stroke="#555" stroke-width="1.0"/>
<circle cx="221.6" cy="252.7" r="3.0" fill="none" stroke="#555" stroke-width="1.0"/>
<path d="M168 254 V261 H173 M168 263.6 H240 M180.6 268.2 H223 M180.6 280.6 H223 M223 268.2 V280.6 M178 285.7 H237.5 M160 293.4 H238.4" fill="none" stroke="#555" stroke-width="1.05" />
<path d="M181.7 264.3 Q173 265 173 274.5 Q173 284 181.7 284.8 Z" fill="#888" stroke="#555" stroke-width="0.8"/>
<circle cx="239.3" cy="274.9" r="7.2" fill="none" stroke="#555" stroke-width="1.0"/>
<path d="M232.5 271.5 L247 276.5 M232 275 L246 280" fill="none" stroke="#555" stroke-width="0.8" />
<path d="M259 261.4 L247.3 294.5 M254 263 L243 293 M247.3 295.6 H305 Q309.5 295.6 309 298 Q307 302.4 300 302.4" fill="none" stroke="#555" stroke-width="0.95" />
<path d="M232 251.6 H264 Q267 251.6 267 253.6 Q267 255.6 264 255.6 H243 L242 259.5" fill="none" stroke="#555" stroke-width="1.05" />
<path d="M265 255.6 Q262 258 259 261.4 M276 250.9 Q268 257 259 261.4 M282 250.9 Q272 258 262 262" fill="none" stroke="#555" stroke-width="1.05" />
<path d="M290 250.7 Q297 251 301 256" fill="none" stroke="#555" stroke-width="0.9" />
<path d="M248 264 L252 258 L257 259 L254 266 Z M246 270 L250 268 L252 272" fill="none" stroke="#666" stroke-width="0.8" />
<path d="M162 302.4 H300" fill="none" stroke="#555" stroke-width="1.05" />
<path d="M159.8 263 V305" fill="none" stroke="#555" stroke-width="1.05" />
<path d="M84.7 266.8 V304.5 H83 M84.7 266.8 H83" fill="none" stroke="#555" stroke-width="1.05" />
<path d="M84.7 273.8 L89 276 H104.4 V295.8 H89 L84.7 297.5" fill="none" stroke="#555" stroke-width="1.05" />
<path d="M90 276.4 V295.5 M91.5 276.4 V295.5" fill="none" stroke="#999" stroke-width="0.7" />
<path d="M104.4 276.9 H112.8 V294.4 H104.4 M111.8 276.9 V294.4 M112.8 279.3 H147.9 M112.8 293.1 H147.9" fill="none" stroke="#555" stroke-width="1.05" />
<path d="M147.9 279.3 Q151 278.5 153 276 Q155.5 274 155.6 270 Q155.7 264.5 159.3 263.5 M147.9 293.1 Q148.5 296 151 299 Q153 301.5 159.3 301.5 M150.5 277.5 Q146.8 286 150.5 297" fill="none" stroke="#555" stroke-width="1.05" />
<path d="M113 315 H128.5 V342 H113 Q111 342 111 340 V317 Q111 315 113 315 Z" fill="none" stroke="#555" stroke-width="1.05" />
<path d="M128.5 319.7 H182 M128.5 337.4 H182" fill="none" stroke="#444" stroke-width="1.6" />
<path d="M131 320 V336 M139 320 V336" fill="none" stroke="#777" stroke-width="0.8" />
<path d="M128.5 342 V345 Q128.5 349 132 349 H179 Q182 349 182 345 V323 M160 337 V349" fill="none" stroke="#555" stroke-width="1.05" />
<line x1="109.2" y1="118.4" x2="144.77" y2="193.88" stroke="#1a1a1a" stroke-width="0.95"/>
<path d="M146.9 198.4 L143.23 194.60 L146.31 193.15 Z" fill="#1a1a1a"/>
<line x1="129.3" y1="118.4" x2="148.83" y2="158.99" stroke="#1a1a1a" stroke-width="0.95"/>
<path d="M151 163.5 L147.30 159.73 L150.36 158.26 Z" fill="#1a1a1a"/>
<line x1="149.2" y1="118.4" x2="159.59" y2="139.42" stroke="#1a1a1a" stroke-width="0.95"/>
<path d="M161.8 143.9 L158.06 140.17 L161.11 138.66 Z" fill="#1a1a1a"/>
<line x1="178.6" y1="118.4" x2="171.11" y2="137.64" stroke="#1a1a1a" stroke-width="0.95"/>
<path d="M169.3 142.3 L169.53 137.02 L172.70 138.26 Z" fill="#1a1a1a"/>
<line x1="195" y1="118.4" x2="232.15" y2="196.48" stroke="#1a1a1a" stroke-width="0.95"/>
<path d="M234.3 201 L230.62 197.22 L233.69 195.75 Z" fill="#1a1a1a"/>
<line x1="273.5" y1="118.6" x2="255.28" y2="166.33" stroke="#1a1a1a" stroke-width="0.95"/>
<path d="M253.5 171 L253.69 165.72 L256.87 166.93 Z" fill="#1a1a1a"/>
<line x1="316.3" y1="118.6" x2="302.18" y2="158.29" stroke="#1a1a1a" stroke-width="0.95"/>
<path d="M300.5 163 L300.57 157.72 L303.78 158.86 Z" fill="#1a1a1a"/>
<line x1="340.6" y1="118.6" x2="319.78" y2="176.99" stroke="#1a1a1a" stroke-width="0.95"/>
<path d="M318.1 181.7 L318.18 176.42 L321.38 177.56 Z" fill="#1a1a1a"/>
<line x1="421.5" y1="118.8" x2="391.21" y2="202.30" stroke="#1a1a1a" stroke-width="0.95"/>
<path d="M389.5 207 L389.61 201.72 L392.80 202.88 Z" fill="#1a1a1a"/>
<line x1="91.5" y1="362" x2="95.11" y2="315.98" stroke="#1a1a1a" stroke-width="0.95"/>
<path d="M95.5 311 L96.80 316.12 L93.41 315.85 Z" fill="#1a1a1a"/>
<line x1="116" y1="362" x2="116.74" y2="347.99" stroke="#1a1a1a" stroke-width="0.95"/>
<path d="M117 343 L118.43 348.08 L115.04 347.90 Z" fill="#1a1a1a"/>
<line x1="153.5" y1="362" x2="159.05" y2="300.98" stroke="#1a1a1a" stroke-width="0.95"/>
<path d="M159.5 296 L160.74 301.13 L157.35 300.83 Z" fill="#1a1a1a"/>
<line x1="164" y1="362" x2="172.18" y2="264.48" stroke="#1a1a1a" stroke-width="0.95"/>
<path d="M172.6 259.5 L173.88 264.62 L170.49 264.34 Z" fill="#1a1a1a"/>
<line x1="201" y1="362" x2="180.62" y2="264.39" stroke="#1a1a1a" stroke-width="0.95"/>
<path d="M179.6 259.5 L182.29 264.05 L178.96 264.74 Z" fill="#1a1a1a"/>
<line x1="213" y1="362" x2="191.45" y2="262.19" stroke="#1a1a1a" stroke-width="0.95"/>
<path d="M190.4 257.3 L193.12 261.83 L189.79 262.55 Z" fill="#1a1a1a"/>
<line x1="225.5" y1="362" x2="212.08" y2="301.38" stroke="#1a1a1a" stroke-width="0.95"/>
<path d="M211 296.5 L213.74 301.01 L210.42 301.75 Z" fill="#1a1a1a"/>
<line x1="247" y1="362" x2="225.57" y2="263.79" stroke="#1a1a1a" stroke-width="0.95"/>
<path d="M224.5 258.9 L227.23 263.42 L223.91 264.15 Z" fill="#1a1a1a"/>
<line x1="258.5" y1="362" x2="244.37" y2="297.38" stroke="#1a1a1a" stroke-width="0.95"/>
<path d="M243.3 292.5 L246.03 297.02 L242.71 297.75 Z" fill="#1a1a1a"/>
<line x1="282" y1="362" x2="261.06" y2="265.89" stroke="#1a1a1a" stroke-width="0.95"/>
<path d="M260 261 L262.73 265.52 L259.40 266.25 Z" fill="#1a1a1a"/>
<line x1="308.5" y1="362" x2="301.05" y2="327.39" stroke="#1a1a1a" stroke-width="0.95"/>
<path d="M300 322.5 L302.71 327.03 L299.39 327.75 Z" fill="#1a1a1a"/>
<line x1="335" y1="362" x2="321.57" y2="300.88" stroke="#1a1a1a" stroke-width="0.95"/>
<path d="M320.5 296 L323.23 300.52 L319.91 301.25 Z" fill="#1a1a1a"/>
<line x1="355.5" y1="362" x2="336.03" y2="269.89" stroke="#1a1a1a" stroke-width="0.95"/>
<path d="M335 265 L337.70 269.54 L334.37 270.24 Z" fill="#1a1a1a"/>
<line x1="369.5" y1="362" x2="345.77" y2="271.84" stroke="#1a1a1a" stroke-width="0.95"/>
<path d="M344.5 267 L347.42 271.40 L344.13 272.27 Z" fill="#1a1a1a"/>
<line x1="406" y1="362" x2="382.55" y2="253.39" stroke="#1a1a1a" stroke-width="0.95"/>
<path d="M381.5 248.5 L384.22 253.03 L380.89 253.75 Z" fill="#1a1a1a"/>
<text x="108.7" y="115.3" font-size="8.2" font-weight="bold" text-anchor="middle" fill="#1a1a1a" stroke="#1a1a1a" stroke-width="0.2">1</text>
<text x="128.8" y="115.3" font-size="8.2" font-weight="bold" text-anchor="middle" fill="#1a1a1a" stroke="#1a1a1a" stroke-width="0.2">2</text>
<text x="149" y="115.3" font-size="8.2" font-weight="bold" text-anchor="middle" fill="#1a1a1a" stroke="#1a1a1a" stroke-width="0.2">3</text>
<text x="177.7" y="115.3" font-size="8.2" font-weight="bold" text-anchor="middle" fill="#1a1a1a" stroke="#1a1a1a" stroke-width="0.2">4</text>
<text x="194.6" y="115.3" font-size="8.2" font-weight="bold" text-anchor="middle" fill="#1a1a1a" stroke="#1a1a1a" stroke-width="0.2">5</text>
<text x="273.5" y="115.3" font-size="8.2" font-weight="bold" text-anchor="middle" fill="#1a1a1a" stroke="#1a1a1a" stroke-width="0.2">6</text>
<text x="316.3" y="115.3" font-size="8.2" font-weight="bold" text-anchor="middle" fill="#1a1a1a" stroke="#1a1a1a" stroke-width="0.2">7</text>
<text x="340.6" y="115.3" font-size="8.2" font-weight="bold" text-anchor="middle" fill="#1a1a1a" stroke="#1a1a1a" stroke-width="0.2">8</text>
<text x="421.5" y="115.3" font-size="8.2" font-weight="bold" text-anchor="middle" fill="#1a1a1a" stroke="#1a1a1a" stroke-width="0.2">9</text>
<text x="91" y="371" font-size="8.2" font-weight="bold" text-anchor="middle" fill="#1a1a1a" stroke="#1a1a1a" stroke-width="0.2" letter-spacing="-0.3">24</text>
<text x="116" y="371" font-size="8.2" font-weight="bold" text-anchor="middle" fill="#1a1a1a" stroke="#1a1a1a" stroke-width="0.2" letter-spacing="-0.3">23</text>
<text x="153.5" y="371" font-size="8.2" font-weight="bold" text-anchor="middle" fill="#1a1a1a" stroke="#1a1a1a" stroke-width="0.2" letter-spacing="-0.3">22</text>
<text x="164.5" y="371" font-size="8.2" font-weight="bold" text-anchor="middle" fill="#1a1a1a" stroke="#1a1a1a" stroke-width="0.2" letter-spacing="-0.3">21</text>
<text x="201" y="371" font-size="8.2" font-weight="bold" text-anchor="middle" fill="#1a1a1a" stroke="#1a1a1a" stroke-width="0.2" letter-spacing="-0.3">20</text>
<text x="213" y="371" font-size="8.2" font-weight="bold" text-anchor="middle" fill="#1a1a1a" stroke="#1a1a1a" stroke-width="0.2" letter-spacing="-0.3">19</text>
<text x="225.5" y="371" font-size="8.2" font-weight="bold" text-anchor="middle" fill="#1a1a1a" stroke="#1a1a1a" stroke-width="0.2" letter-spacing="-0.3">18</text>
<text x="247" y="371" font-size="8.2" font-weight="bold" text-anchor="middle" fill="#1a1a1a" stroke="#1a1a1a" stroke-width="0.2" letter-spacing="-0.3">17</text>
<text x="258.5" y="371" font-size="8.2" font-weight="bold" text-anchor="middle" fill="#1a1a1a" stroke="#1a1a1a" stroke-width="0.2" letter-spacing="-0.3">16</text>
<text x="282" y="371" font-size="8.2" font-weight="bold" text-anchor="middle" fill="#1a1a1a" stroke="#1a1a1a" stroke-width="0.2" letter-spacing="-0.3">15</text>
<text x="308.5" y="371" font-size="8.2" font-weight="bold" text-anchor="middle" fill="#1a1a1a" stroke="#1a1a1a" stroke-width="0.2" letter-spacing="-0.3">14</text>
<text x="335" y="371" font-size="8.2" font-weight="bold" text-anchor="middle" fill="#1a1a1a" stroke="#1a1a1a" stroke-width="0.2" letter-spacing="-0.3">13</text>
<text x="355.5" y="371" font-size="8.2" font-weight="bold" text-anchor="middle" fill="#1a1a1a" stroke="#1a1a1a" stroke-width="0.2" letter-spacing="-0.3">12</text>
<text x="369.5" y="371" font-size="8.2" font-weight="bold" text-anchor="middle" fill="#1a1a1a" stroke="#1a1a1a" stroke-width="0.2" letter-spacing="-0.3">11</text>
<text x="406.5" y="371" font-size="8.2" font-weight="bold" text-anchor="middle" fill="#1a1a1a" stroke="#1a1a1a" stroke-width="0.2" letter-spacing="-0.3">10</text>
<text x="424.8" y="380.3" font-size="6.6" fill="#1a1a1a" stroke="#1a1a1a" stroke-width="0.25" letter-spacing="-0.25">WJBA-03-17-001</text>
</svg>
</body></html>
